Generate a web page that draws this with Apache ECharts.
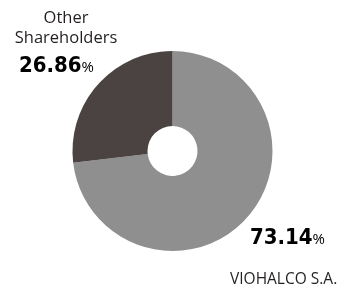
<!DOCTYPE html>
<html><head><meta charset="utf-8">
<script src="https://cdn.jsdelivr.net/npm/echarts@6/dist/echarts.min.js"></script>
<style>html,body{margin:0;padding:0;background:#fff}#c{width:347px;height:290px}</style>
</head><body><div id="c"></div>
<script>
var names = ['VIOHALCO S.A.', 'Other\nShareholders'];
var values = [73.14, 26.86];
var colors = ['#8f8f8f', '#4a4341'];

var chart = echarts.init(document.getElementById('c'), null, {renderer: 'canvas'});
function pctText(v) {
  return '{n|' + v.toFixed(2) + '}{p|%}';
}
var rich = {
  n: {fontFamily: 'DejaVu Sans Condensed', fontWeight: 'bold', fontSize: 22, color: '#231f20'},
  p: {fontFamily: 'Open Sans', fontSize: 15, color: '#231f20', padding: [4, 0, 0, 0]}
};
chart.setOption({
  animation: false,
  series: [{
    type: 'pie',
    center: [172.5, 151],
    radius: [25, 100],
    startAngle: 90,
    clockwise: true,
    label: {show: false},
    labelLine: {show: false},
    silent: true,
    data: names.map(function (n, i) {
      return {name: n, value: values[i], itemStyle: {color: colors[i]}};
    })
  }],
  graphic: [
    {type: 'text', style: {text: names[1], x: 66, y: 8, align: 'center', fontFamily: 'Open Sans', fontSize: 16.5, lineHeight: 20, fill: '#231f20'}},
    {type: 'text', style: {text: pctText(values[1]), x: 19, y: 55, rich: rich}},
    {type: 'text', style: {text: pctText(values[0]), x: 250, y: 227, rich: rich}},
    {type: 'text', style: {text: names[0], x: 230, y: 272, fontFamily: 'Open Sans', fontSize: 15.5, fill: '#231f20'}}
  ]
});
</script></body></html>
